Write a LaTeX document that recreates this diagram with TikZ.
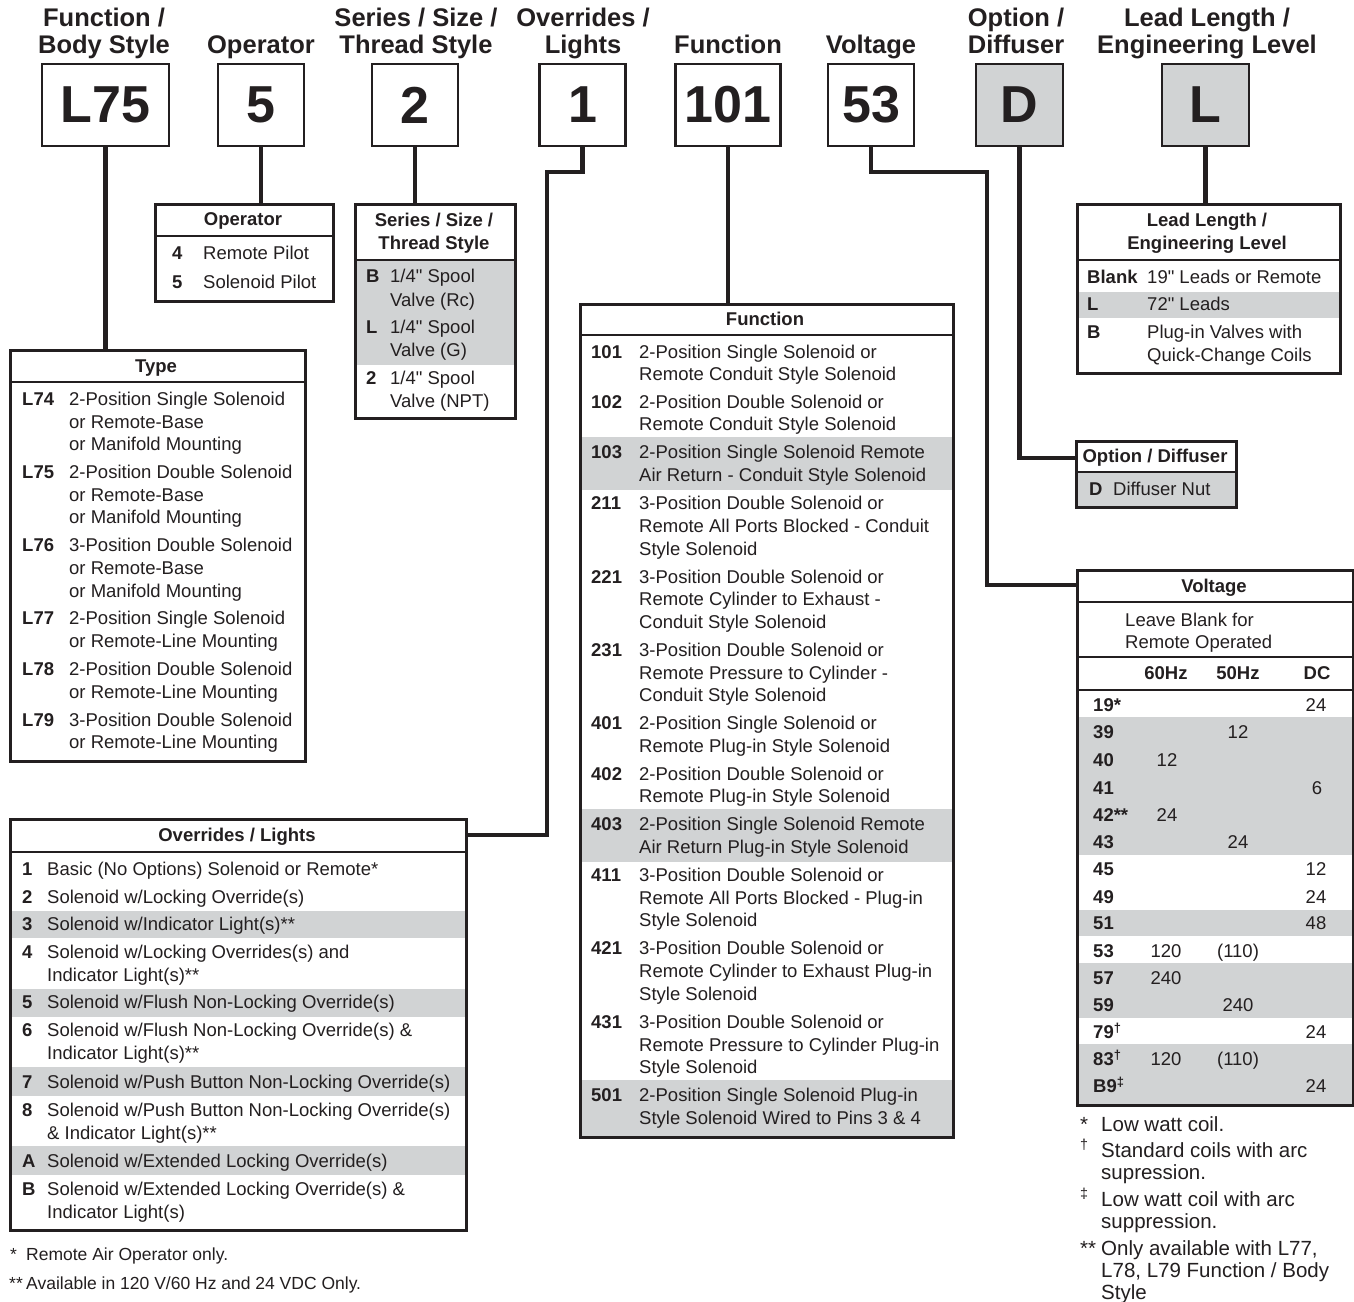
\documentclass[tikz,border=0pt]{standalone}
\usepackage{fontspec}
\setmainfont{Liberation Sans}
\definecolor{ink}{HTML}{231F20}
\definecolor{gry}{HTML}{D1D3D4}
\newcounter{tx}
\newcommand\inch{\XeTeXglyph\XeTeXcharglyph"22\relax}
\tikzset{
  codebox/.style={draw=ink, line width=2.8pt, minimum height=82pt, inner sep=0pt, text=ink, font=\fontsize{52}{52}\selectfont\bfseries},
  conn/.style={draw=ink, line width=4.5pt},
  frame/.style={draw=ink, line width=2.6pt, inner sep=0pt, anchor=north west},
  sepline/.style={draw=ink, line width=2.6pt},
  txt/.style={anchor=base west, inner sep=0pt, yshift=-6.6pt, text=ink, font=\fontsize{18.5}{22}\selectfont},
  key/.style={anchor=base west, inner sep=0pt, yshift=-6.6pt, text=ink, font=\fontsize{18.5}{22}\selectfont\bfseries},
  ctr/.style={anchor=base, inner sep=0pt, yshift=-6.6pt, text=ink, font=\fontsize{18.5}{22}\selectfont},
  hd/.style={anchor=base, inner sep=0pt, yshift=-6.6pt, text=ink, font=\fontsize{18.5}{22}\selectfont\bfseries},
  toph/.style={anchor=base, inner sep=0pt, text=ink, font=\fontsize{25.5}{28}\selectfont\bfseries},
  note/.style={anchor=base west, inner sep=0pt, yshift=-7.2pt, text=ink, font=\fontsize{20.5}{22}\selectfont},
  fnote/.style={anchor=base west, inner sep=0pt, yshift=-6.2pt, text=ink, font=\fontsize{17.5}{20}\selectfont},
}
\newcommand\Tx[3]{\stepcounter{tx}\node[txt] (tx\arabic{tx}) at (#1,#2) {#3};}
\newcommand\Kx[3]{\stepcounter{tx}\node[key] (tx\arabic{tx}) at (#1,#2) {#3};}
\newcommand\Cx[3]{\stepcounter{tx}\node[ctr] (tx\arabic{tx}) at (#1,#2) {#3};}
\newcommand\Hx[3]{\stepcounter{tx}\node[hd] (tx\arabic{tx}) at (#1,#2) {#3};}
\newcommand\Nx[3]{\stepcounter{tx}\node[note] (tx\arabic{tx}) at (#1,#2) {#3};}
\newcommand\Fx[3]{\stepcounter{tx}\node[fnote] (tx\arabic{tx}) at (#1,#2) {#3};}
\newcommand\Px[3]{\stepcounter{tx}\node[toph] (tx\arabic{tx}) at (#1,#2) {#3};}
\begin{document}
\begin{tikzpicture}[x=1pt, y=-1pt]
\useasboundingbox[fill=white] (0,0) rectangle (1354,1301);

% ---------- top headers
\Px{104}{26}{Function /}
\Px{104}{53}{Body Style}
\Px{261}{53}{Operator}
\Px{416}{26}{Series / Size /}
\Px{416}{53}{Thread Style}
\Px{583}{26}{Overrides /}
\Px{583}{53}{Lights}
\Px{728}{53}{Function}
\Px{871}{53}{Voltage}
\Px{1016}{26}{Option /}
\Px{1016}{53}{Diffuser}
\Px{1207}{26}{Lead Length /}
\Px{1207}{53}{Engineering Level}

% ---------- code boxes
\node[codebox, minimum width=127pt] (cL75) at (105.5,105) {L75};
\node[codebox, minimum width=86pt] (c5) at (261,105) {5};
\node[codebox, minimum width=86pt] (c2) at (415,105) {2};
\node[codebox, minimum width=86pt] (c1) at (582.5,105) {1};
\node[codebox, minimum width=105pt] (c101) at (728,105) {101};
\node[codebox, minimum width=86pt] (c53) at (871,105) {53};
\node[codebox, minimum width=87pt, fill=gry] (cD) at (1019.5,105) {D};
\node[codebox, minimum width=87pt, fill=gry] (cL) at (1205.5,105) {L};

% ---------- shaded rows
\fill[gry] (354,260) rectangle (514,365);
\fill[gry] (579,437) rectangle (952,490);
\fill[gry] (579,809) rectangle (952,862);
\fill[gry] (579,1080) rectangle (952,1136);
\fill[gry] (1076,292) rectangle (1339,318);
\fill[gry] (1075,472) rectangle (1235,506);
\fill[gry] (1076,717) rectangle (1352,855);
\fill[gry] (1076,910) rectangle (1352,936);
\fill[gry] (1076,963) rectangle (1352,1018);
\fill[gry] (1076,1044) rectangle (1352,1104);
\fill[gry] (9,911) rectangle (465,938);
\fill[gry] (9,989) rectangle (465,1017);
\fill[gry] (9,1067) rectangle (465,1096);
\fill[gry] (9,1146) rectangle (465,1175);

% ---------- table frames
\node[frame, minimum width=178pt, minimum height=97pt] (tOp) at (154,203) {};
\node[frame, minimum width=160pt, minimum height=214pt] (tSer) at (354,203) {};
\node[frame, minimum width=295pt, minimum height=411pt] (tType) at (9,349) {};
\node[frame, minimum width=373pt, minimum height=833pt] (tFun) at (579,303) {};
\node[frame, minimum width=263pt, minimum height=169pt] (tLead) at (1076,203) {};
\node[frame, minimum width=160pt, minimum height=66pt] (tOpt) at (1075,440) {};
\node[frame, minimum width=276pt, minimum height=535pt] (tVol) at (1076,569) {};
\node[frame, minimum width=456pt, minimum height=411pt] (tOvr) at (9,818) {};

% separators
\draw[sepline] (154,236) -- (332,236);
\draw[sepline] (354,260) -- (514,260);
\draw[sepline] (9,382) -- (304,382);
\draw[sepline] (579,335) -- (952,335);
\draw[sepline] (1076,260) -- (1339,260);
\draw[sepline] (1075,472) -- (1235,472);
\draw[sepline] (1076,602) -- (1352,602);
\draw[sepline] (1076,657) -- (1352,657);
\draw[sepline] (1076,690) -- (1352,690);
\draw[sepline] (9,852) -- (465,852);

% ---------- connectors
\draw[conn] (cL75.south) -- (cL75.south |- tType.north);
\draw[conn] (c5.south) -- (c5.south |- tOp.north);
\draw[conn] (c2.south) -- (c2.south |- tSer.north);
\coordinate (j1) at (547,172);
\coordinate (j2) at (547,835);
\draw[conn] (c1.south) |- (j1) -- (j2) -- (j2 -| tOvr.east);
\draw[conn] (c101.south) -- (c101.south |- tFun.north);
\coordinate (j3) at (987,172);
\coordinate (j4) at (987,585);
\draw[conn] (c53.south) |- (j3) -- (j4) -- (j4 -| tVol.west);
\coordinate (j5) at (cD.south |- 0,458);
\draw[conn] (cD.south) -- (j5) -- (j5 -| tOpt.west);
\draw[conn] (cL.south) -- (cL.south |- tLead.north);

% ---------- Operator table
\Hx{243}{219}{Operator}
\Kx{172}{253}{4} \Tx{203}{253}{Remote Pilot}
\Kx{172}{282}{5} \Tx{203}{282}{Solenoid Pilot}

% ---------- Series table
\Hx{434}{220}{Series / Size /}
\Hx{434}{243}{Thread Style}
\Kx{366}{276}{B} \Tx{390}{276}{1/4\inch\ Spool} \Tx{390}{300}{Valve (Rc)}
\Kx{366}{327}{L} \Tx{390}{327}{1/4\inch\ Spool} \Tx{390}{350}{Valve (G)}
\Kx{366}{378}{2} \Tx{390}{378}{1/4\inch\ Spool} \Tx{390}{401}{Valve (NPT)}

% ---------- Type table
\Hx{156}{366}{Type}
\Kx{22}{399}{L74} \Tx{69}{399}{2-Position Single Solenoid} \Tx{69}{422}{or Remote-Base} \Tx{69}{444}{or Manifold Mounting}
\Kx{22}{472}{L75} \Tx{69}{472}{2-Position Double Solenoid} \Tx{69}{495}{or Remote-Base} \Tx{69}{517}{or Manifold Mounting}
\Kx{22}{545}{L76} \Tx{69}{545}{3-Position Double Solenoid} \Tx{69}{568}{or Remote-Base} \Tx{69}{591}{or Manifold Mounting}
\Kx{22}{618}{L77} \Tx{69}{618}{2-Position Single Solenoid} \Tx{69}{641}{or Remote-Line Mounting}
\Kx{22}{669}{L78} \Tx{69}{669}{2-Position Double Solenoid} \Tx{69}{692}{or Remote-Line Mounting}
\Kx{22}{720}{L79} \Tx{69}{720}{3-Position Double Solenoid} \Tx{69}{742}{or Remote-Line Mounting}

% ---------- Function table
\Hx{765}{319}{Function}
\Kx{591}{352}{101} \Tx{639}{352}{2-Position Single Solenoid or} \Tx{639}{374}{Remote Conduit Style Solenoid}
\Kx{591}{402}{102} \Tx{639}{402}{2-Position Double Solenoid or} \Tx{639}{424}{Remote Conduit Style Solenoid}
\Kx{591}{452}{103} \Tx{639}{452}{2-Position Single Solenoid Remote} \Tx{639}{475}{Air Return - Conduit Style Solenoid}
\Kx{591}{503}{211} \Tx{639}{503}{3-Position Double Solenoid or} \Tx{639}{526}{Remote All Ports Blocked - Conduit} \Tx{639}{549}{Style Solenoid}
\Kx{591}{577}{221} \Tx{639}{577}{3-Position Double Solenoid or} \Tx{639}{599}{Remote Cylinder to Exhaust -} \Tx{639}{622}{Conduit Style Solenoid}
\Kx{591}{650}{231} \Tx{639}{650}{3-Position Double Solenoid or} \Tx{639}{673}{Remote Pressure to Cylinder -} \Tx{639}{695}{Conduit Style Solenoid}
\Kx{591}{723}{401} \Tx{639}{723}{2-Position Single Solenoid or} \Tx{639}{746}{Remote Plug-in Style Solenoid}
\Kx{591}{774}{402} \Tx{639}{774}{2-Position Double Solenoid or} \Tx{639}{796}{Remote Plug-in Style Solenoid}
\Kx{591}{824}{403} \Tx{639}{824}{2-Position Single Solenoid Remote} \Tx{639}{847}{Air Return Plug-in Style Solenoid}
\Kx{591}{875}{411} \Tx{639}{875}{3-Position Double Solenoid or} \Tx{639}{898}{Remote All Ports Blocked - Plug-in} \Tx{639}{920}{Style Solenoid}
\Kx{591}{948}{421} \Tx{639}{948}{3-Position Double Solenoid or} \Tx{639}{971}{Remote Cylinder to Exhaust Plug-in} \Tx{639}{994}{Style Solenoid}
\Kx{591}{1022}{431} \Tx{639}{1022}{3-Position Double Solenoid or} \Tx{639}{1045}{Remote Pressure to Cylinder Plug-in} \Tx{639}{1067}{Style Solenoid}
\Kx{591}{1095}{501} \Tx{639}{1095}{2-Position Single Solenoid Plug-in} \Tx{639}{1118}{Style Solenoid Wired to Pins 3 \& 4}

% ---------- Lead Length table
\Hx{1207}{220}{Lead Length /}
\Hx{1207}{243}{Engineering Level}
\Kx{1087}{277}{Blank} \Tx{1147}{277}{19\inch\ Leads or Remote}
\Kx{1087}{304}{L} \Tx{1147}{304}{72\inch\ Leads}
\Kx{1087}{332}{B} \Tx{1147}{332}{Plug-in Valves with} \Tx{1147}{355}{Quick-Change Coils}

% ---------- Option / Diffuser table
\Hx{1155}{456}{Option / Diffuser}
\Kx{1089}{489}{D} \Tx{1113}{489}{Diffuser Nut}

% ---------- Voltage table
\Hx{1214}{586}{Voltage}
\Tx{1125}{620}{Leave Blank for}
\Tx{1125}{642}{Remote Operated}
\Hx{1166}{673}{60Hz} \Hx{1238}{673}{50Hz} \Hx{1317}{673}{DC}
\Kx{1093}{705}{19*} \Cx{1316}{705}{24}
\Kx{1093}{732}{39} \Cx{1238}{732}{12}
\Kx{1093}{760}{40} \Cx{1167}{760}{12}
\Kx{1093}{788}{41} \Cx{1317}{788}{6}
\Kx{1093}{815}{42**} \Cx{1167}{815}{24}
\Kx{1093}{842}{43} \Cx{1238}{842}{24}
\Kx{1093}{869}{45} \Cx{1316}{869}{12}
\Kx{1093}{897}{49} \Cx{1316}{897}{24}
\Kx{1093}{923}{51} \Cx{1316}{923}{48}
\Kx{1093}{951}{53} \Cx{1166}{951}{120} \Cx{1238}{951}{(110)}
\Kx{1093}{978}{57} \Cx{1166}{978}{240}
\Kx{1093}{1005}{59} \Cx{1238}{1005}{240}
\Kx{1093}{1032}{79\textsuperscript{†}} \Cx{1316}{1032}{24}
\Kx{1093}{1059}{83\textsuperscript{†}} \Cx{1166}{1059}{120} \Cx{1238}{1059}{(110)}
\Kx{1093}{1086}{B9\textsuperscript{‡}} \Cx{1316}{1086}{24}

% ---------- Voltage footnotes
\Nx{1080}{1124}{*} \Nx{1101}{1124}{Low watt coil.}
\Nx{1080}{1150}{\textsuperscript{†}} \Nx{1101}{1150}{Standard coils with arc} \Nx{1101}{1172}{supression.}
\Nx{1080}{1199}{\textsuperscript{‡}} \Nx{1101}{1199}{Low watt coil with arc} \Nx{1101}{1221}{suppression.}
\Nx{1080}{1248}{**} \Nx{1101}{1248}{Only available with L77,} \Nx{1101}{1270}{L78, L79 Function / Body} \Nx{1101}{1292}{Style}

% ---------- Overrides / Lights table
\Hx{237}{835}{Overrides / Lights}
\Kx{22}{869}{1} \Tx{47}{869}{Basic (No Options) Solenoid or Remote*}
\Kx{22}{897}{2} \Tx{47}{897}{Solenoid w/Locking Override(s)}
\Kx{22}{924}{3} \Tx{47}{924}{Solenoid w/Indicator Light(s)**}
\Kx{22}{952}{4} \Tx{47}{952}{Solenoid w/Locking Overrides(s) and} \Tx{47}{975}{Indicator Light(s)**}
\Kx{22}{1002}{5} \Tx{47}{1002}{Solenoid w/Flush Non-Locking Override(s)}
\Kx{22}{1030}{6} \Tx{47}{1030}{Solenoid w/Flush Non-Locking Override(s) \&} \Tx{47}{1053}{Indicator Light(s)**}
\Kx{22}{1082}{7} \Tx{47}{1082}{Solenoid w/Push Button Non-Locking Override(s)}
\Kx{22}{1110}{8} \Tx{47}{1110}{Solenoid w/Push Button Non-Locking Override(s)} \Tx{47}{1133}{\& Indicator Light(s)**}
\Kx{22}{1161}{A} \Tx{47}{1161}{Solenoid w/Extended Locking Override(s)}
\Kx{22}{1189}{B} \Tx{47}{1189}{Solenoid w/Extended Locking Override(s) \&} \Tx{47}{1212}{Indicator Light(s)}

% ---------- bottom footnotes
\Fx{10}{1254}{*} \Fx{26}{1254}{Remote Air Operator only.}
\Fx{9}{1283}{**} \Fx{26}{1283}{Available in 120 V/60 Hz and 24 VDC Only.}
\end{tikzpicture}
\end{document}
